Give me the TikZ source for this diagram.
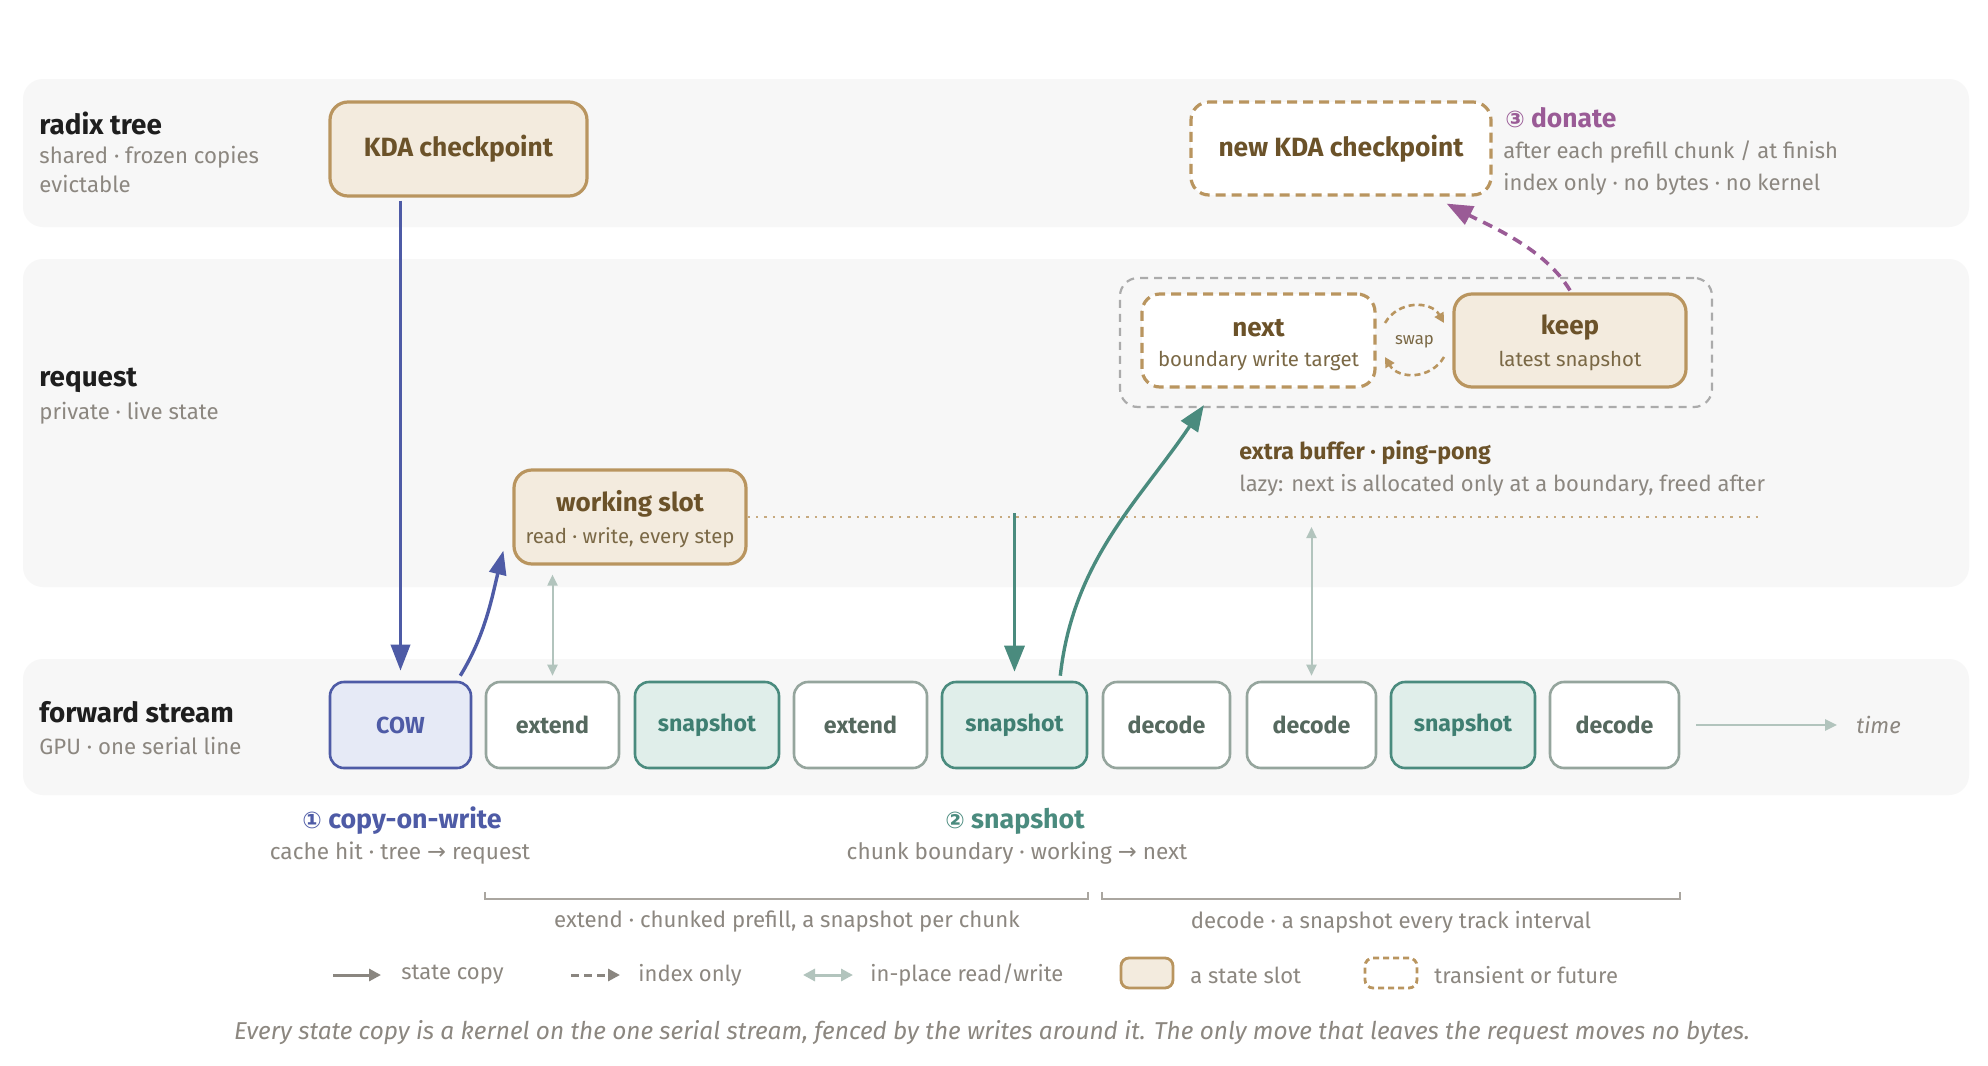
\documentclass[tikz,border=0pt]{standalone}
\usepackage{fontspec}
\setmainfont{Fira Sans}
\newfontfamily\symf{DejaVu Sans}
\usetikzlibrary{arrows.meta,calc}
\newcommand\myfs[1]{\fontsize{#1pt}{#1pt}\selectfont}
\definecolor{bandgray}{HTML}{F7F7F7}
\definecolor{tan}{HTML}{B9955F}
\definecolor{tanfill}{HTML}{F3EBDE}
\definecolor{brown}{HTML}{6B5229}
\definecolor{brownsub}{HTML}{7A6845}
\definecolor{graytext}{HTML}{8C8780}
\definecolor{darktitle}{HTML}{1E1E1E}
\definecolor{bluec}{HTML}{4E5BA6}
\definecolor{bluefill}{HTML}{E6EAF6}
\definecolor{tealc}{HTML}{4A8B7E}
\definecolor{tealfill}{HTML}{E0EEEA}
\definecolor{tealtext}{HTML}{3F7F72}
\definecolor{sgray}{HTML}{95A59D}
\definecolor{sgtext}{HTML}{56695F}
\definecolor{rwc}{HTML}{B2C4BD}
\definecolor{purp}{HTML}{9A5B96}
\definecolor{bracketc}{HTML}{AAA6A0}
\definecolor{outerc}{HTML}{ABABAB}
\definecolor{legc}{HTML}{8A8680}
\tikzset{
  band/.style={fill=bandgray, rounded corners=10pt},
  bandtitle/.style={anchor=west, inner sep=0pt, font=\myfs{13.9}\bfseries, text=darktitle},
  bandsub/.style={anchor=west, inner sep=0pt, font=\myfs{11.1}, text=graytext},
  slot/.style={draw=tan, fill=tanfill, line width=1.6pt, rounded corners=9pt, inner sep=0pt},
  transient/.style={draw=tan, fill=white, line width=1.6pt, rounded corners=9pt, dash pattern=on 5pt off 3pt, inner sep=0pt},
  boxtitle/.style={inner sep=0pt, font=\myfs{13}\bfseries, text=brown},
  boxsub/.style={inner sep=0pt, font=\myfs{10.2}, text=brownsub},
  sbox/.style={draw=sgray, fill=white, line width=1.3pt, rounded corners=7pt, minimum height=43pt, inner sep=0pt, font=\myfs{11.6}\bfseries, text=sgtext},
  snapbox/.style={sbox, draw=tealc, fill=tealfill, text=tealtext},
  cowbox/.style={sbox, draw=bluec, fill=bluefill, text=bluec},
  note/.style={inner sep=0pt, font=\myfs{11}, text=graytext},
  bluearr/.style={draw=bluec, line width=1.8pt, -{Triangle[length=13pt,width=9.5pt]}},
  tealarr/.style={draw=tealc, line width=1.7pt, -{Triangle[length=13pt,width=10pt]}},
  rwarr/.style={draw=rwc, line width=1pt, {Triangle[length=5.5pt,width=5pt]}-{Triangle[length=5.5pt,width=5pt]}},
  donatearr/.style={draw=purp, line width=1.8pt, dash pattern=on 5pt off 3.5pt, -{Triangle[length=13pt,width=10pt]}},
  swaparr/.style={draw=tan, line width=1.3pt, dash pattern=on 3pt off 2pt, -{Triangle[length=5pt,width=5pt]}},
  bracket/.style={draw=bracketc, line width=1pt},
}
\begin{document}
\begin{tikzpicture}[x=0.5pt,y=-0.5pt]
\useasboundingbox (0,0) rectangle (1988,1066);
\fill[white] (0,0) rectangle (1988,1066);
% bands
\fill[band] (23,79) rectangle (1969,227);
\fill[band] (23,259) rectangle (1969,587);
\fill[band] (23,659) rectangle (1969,795);
% band labels
\node[bandtitle] (t1) at (39,123) {radix tree};
\node[bandsub] (t1a) at (39,157) {shared · frozen copies};
\node[bandsub] (t1b) at (39,184) {evictable};
\node[bandtitle] (t2) at (39,380) {request};
\node[bandsub] (t2a) at (39,413) {private · live state};
\node[bandtitle] (t3) at (39,712) {forward stream};
\node[bandsub] (t3a) at (39,746) {GPU · one serial line};
% radix tree nodes
\node[slot, minimum width=128.5pt, minimum height=47pt, font=\myfs{13.2}\bfseries, text=brown] (kda) at (458.5,149) {KDA checkpoint};
\node[transient, minimum width=150pt, minimum height=46.5pt, font=\myfs{13.2}\bfseries, text=brown] (newkda) at (1341,148.5) {new KDA checkpoint};
\node[anchor=west, inner sep=0pt, font=\myfs{13.2}\bfseries, text=purp] (donate) at (1505,118) {{\symf\myfs{11.5}③} donate};
\node[note, anchor=west] (donate1) at (1503,152) {after each prefill chunk / at finish};
\node[note, anchor=west] (donate2) at (1503,184) {index only · no bytes · no kernel};
% request nodes
\node[draw=outerc, line width=1.1pt, dash pattern=on 4pt off 3pt, rounded corners=9pt, minimum width=296pt, minimum height=64.5pt, inner sep=0pt] (pair) at (1416,342.5) {};
\node[transient, minimum width=116.5pt, minimum height=46.5pt] (next) at (1258.5,340.5) {};
\node[boxtitle] (nextT) at (1258.5,328) {next};
\node[boxsub] (nextS) at (1258.5,361) {boundary write target};
\node[slot, minimum width=116pt, minimum height=46.5pt] (keep) at (1570,340.5) {};
\node[boxtitle] (keepT) at (1570,328) {keep};
\node[boxsub] (keepS) at (1570,361) {latest snapshot};
\node[inner sep=0pt, font=\myfs{8.4}, text=brownsub] (swap) at (1414.5,342) {swap};
\draw[swaparr] (1385,323) .. controls (1398.1,300.3) and (1430.9,300.3) .. (1444,323);
\draw[swaparr] (1444,357) .. controls (1430.9,379.7) and (1398.1,379.7) .. (1385,357);
\node[slot, minimum width=116pt, minimum height=47pt] (working) at (630,517) {};
\node[boxtitle] (workingT) at (630,504) {working slot};
\node[boxsub] (workingS) at (630,538) {read · write, every step};
\node[anchor=west, inner sep=0pt, font=\myfs{11.6}\bfseries, text=brown] (xbuf) at (1239,453) {extra buffer · ping-pong};
\node[note, anchor=west] (lazy) at (1239,485) {lazy: next is allocated only at a boundary, freed after};
\coordinate (dotend) at (1759,517);
\draw[draw=tan!80, line width=1.2pt, dash pattern=on 1.2pt off 3pt] (working.east) -- (dotend);
% forward stream
\node[cowbox, minimum width=70.5pt] (cow) at (400.5,725) {COW};
\node[sbox, minimum width=66.5pt] (ext1) at (552.5,725) {extend};
\node[snapbox, minimum width=72pt] (snap1) at (707,725) {snapshot};
\node[sbox, minimum width=66.5pt] (ext2) at (860.5,725) {extend};
\node[snapbox, minimum width=72.5pt] (snap2) at (1014.5,725) {snapshot};
\node[sbox, minimum width=63.5pt] (dec1) at (1166.5,725) {decode};
\node[sbox, minimum width=64.5pt] (dec2) at (1311.5,725) {decode};
\node[snapbox, minimum width=72pt] (snap3) at (1463,725) {snapshot};
\node[sbox, minimum width=64.5pt] (dec3) at (1614.5,725) {decode};
\node[anchor=west, inner sep=0pt, font=\myfs{11.1}\itshape, text=graytext] (time) at (1856,725) {time};
\draw[draw=rwc, line width=1.3pt, -{Triangle[length=6pt,width=5.5pt]}, shorten <=8pt, shorten >=9.5pt] (dec3.east) -- (time.west);
% connectors
\draw[bluearr, shorten <=1.5pt, shorten >=5pt] (kda.south -| cow.north) -- (cow.north);
\draw[bluearr, line width=1.7pt, -{Triangle[length=12pt,width=8.5pt]}] ($(cow.north east)+(-12,-5)$) .. controls (485.5,634.6) and (492,597) .. ($(working.south west)+(-9,-15)$);
\draw[rwarr, shorten <=4.5pt, shorten >=2.5pt] (working.south -| ext1.north) -- (ext1.north);
\draw[tealarr, shorten <=-2pt, shorten >=4.5pt] (snap2.north |- working.east) -- (snap2.north);
\draw[tealarr] ($(snap2.north east)+(-28,-5)$) .. controls (1073,560) and (1140,500) .. ($(pair.south west)+(85,-3)$);
\draw[rwarr, shorten <=5pt, shorten >=2.5pt] (dec2.north |- working.east) -- (dec2.north);
\draw[donatearr] ($(keep.north)+(0,-2)$) .. controls (1545,248.7) and (1491,226.5) .. ($(newkda.south east)+(-46,7)$);
% bottom annotations
\node[inner sep=0pt, font=\myfs{13.4}\bfseries, text=bluec] (cowlab) at (402,821) {{\symf\myfs{11.5}①} copy-on-write};
\node[note, font=\myfs{11.3}] (cowsub) at (400,853) {cache hit · tree {\symf→} request};
\node[inner sep=0pt, font=\myfs{13.4}\bfseries, text=tealc] (snaplab) at (1015,821) {{\symf\myfs{11.5}②} snapshot};
\node[note, font=\myfs{11.3}] (snapsub) at (1017,853) {chunk boundary · working {\symf→} next};
\draw[bracket] (ext1.west |- 0,892) -- (ext1.west |- 0,899) -- (snap2.east |- 0,899) -- (snap2.east |- 0,892);
\draw[bracket] (dec1.west |- 0,892) -- (dec1.west |- 0,899) -- (dec3.east |- 0,899) -- (dec3.east |- 0,892);
\node[note, font=\myfs{11.1}] (extnote) at (787,922) {extend · chunked prefill, a snapshot per chunk};
\node[note, font=\myfs{11.1}] (decnote) at (1391,922) {decode · a snapshot every track interval};
% legend
\coordinate (l1a) at (333,975); \coordinate (l1b) at (381,975);
\draw[draw=legc, line width=1.5pt, -{Triangle[length=6pt,width=6pt]}] (l1a) -- (l1b);
\node[note, anchor=west] (lg1) at (401,975) {state copy};
\coordinate (l2a) at (571,975); \coordinate (l2b) at (620,975);
\draw[draw=legc, line width=1.5pt, dash pattern=on 4pt off 2.5pt, -{Triangle[length=6pt,width=6pt]}] (l2a) -- (l2b);
\node[note, anchor=west] (lg2) at (638,975) {index only};
\coordinate (l3a) at (803,975); \coordinate (l3b) at (853,975);
\draw[draw=rwc, line width=1.5pt, {Triangle[length=6pt,width=6pt]}-{Triangle[length=6pt,width=6pt]}] (l3a) -- (l3b);
\node[note, anchor=west] (lg3) at (870,975) {in-place read/write};
\node[slot, line width=1.4pt, rounded corners=4pt, minimum width=26pt, minimum height=15pt] (lgslot) at (1147,973) {};
\node[note, anchor=west] (lg4) at (1190,975) {a state slot};
\node[transient, line width=1.4pt, rounded corners=4pt, dash pattern=on 3pt off 2pt, minimum width=26pt, minimum height=15pt] (lgtrans) at (1391,973) {};
\node[note, anchor=west] (lg5) at (1434,975) {transient or future};
% footer
\node[inner sep=0pt, font=\myfs{12.2}\itshape, text=graytext] (footer) at (992,1033) {Every state copy is a kernel on the one serial stream, fenced by the writes around it. The only move that leaves the request moves no bytes.};
\end{tikzpicture}
\end{document}
